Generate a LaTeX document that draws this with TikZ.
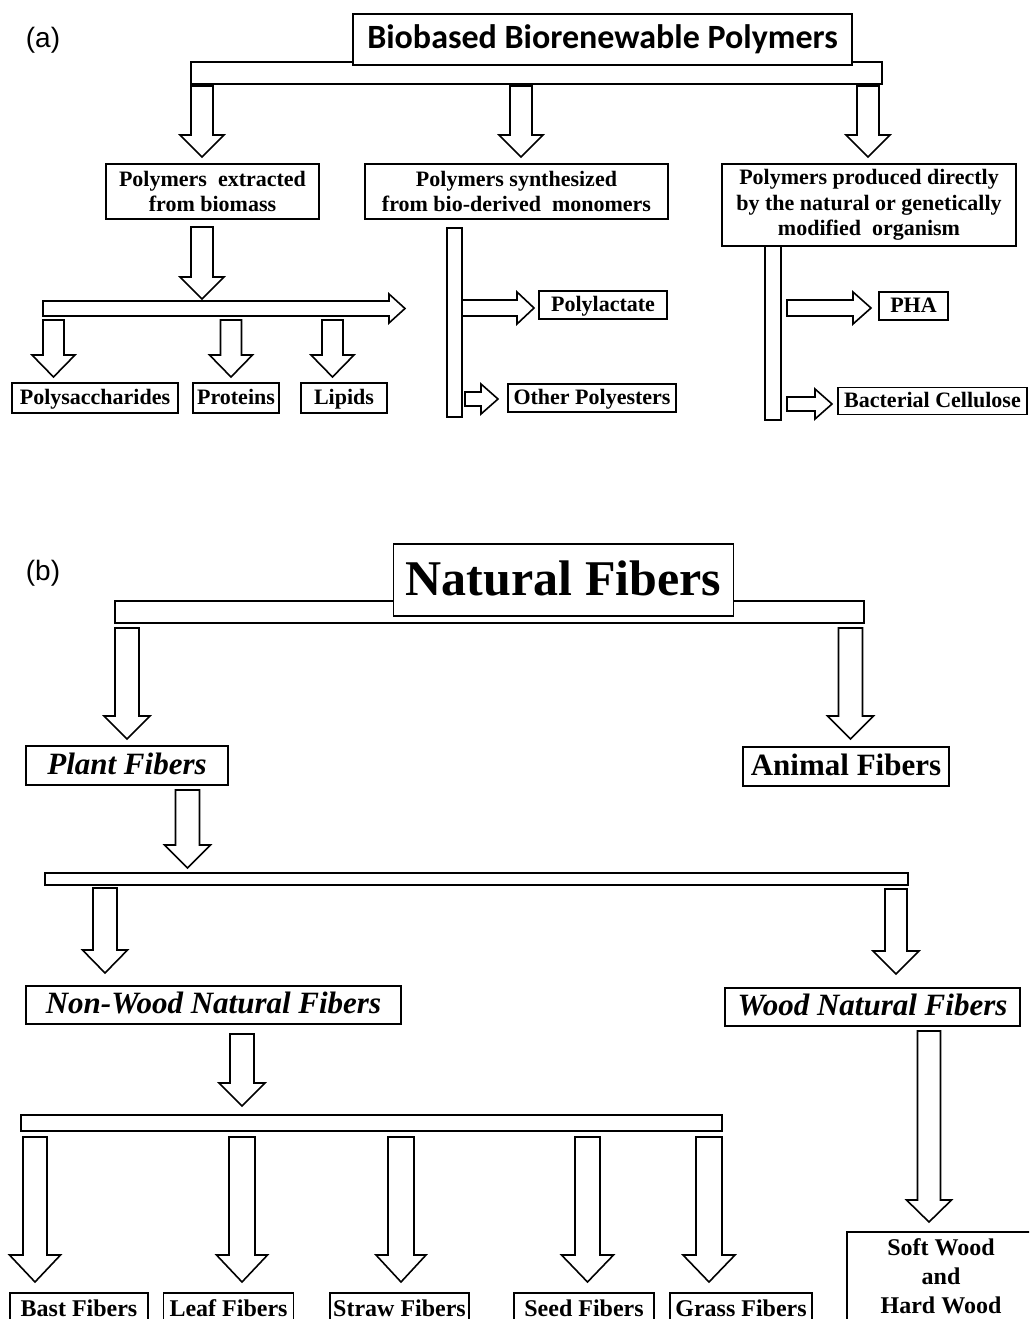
\documentclass[tikz,border=0pt]{standalone}
\usepackage{fontspec}
\setmainfont{Liberation Serif}
\newfontfamily\calibf{Carlito}
\newfontfamily\arialf{Liberation Sans}
\newcommand\darr[6]{\draw[blk] ({#1-#5},#2) -- ({#1-#5},#3) -- ({#1-#6},#3) -- (#1,#4) -- ({#1+#6},#3) -- ({#1+#5},#3) -- ({#1+#5},#2) -- cycle;}
\newcommand\rarr[6]{\draw[blk] (#2,{#1-#5}) -- (#3,{#1-#5}) -- (#3,{#1-#6}) -- (#4,#1) -- (#3,{#1+#6}) -- (#3,{#1+#5}) -- (#2,{#1+#5}) -- cycle;}
\tikzset{
  blk/.style={draw, fill=white, line width=1.6pt, line join=miter},
  box/.style={draw, fill=white, line width=1.6pt, inner sep=0pt, align=center},
  ta/.style={font={\bfseries\fontsize{22}{25.5}\selectfont}},
  sla/.style={ta, text height=15pt, text depth=3pt},
  tb/.style={font={\bfseries\fontsize{31}{36}\selectfont}, text height=21pt, text depth=4pt},
  tbi/.style={font={\bfseries\itshape\fontsize{31}{36}\selectfont}, text height=21pt, text depth=4pt},
  tl/.style={font={\bfseries\fontsize{24}{29}\selectfont}},
  tlb/.style={tl, text height=16pt, text depth=0pt},
  lab/.style={font={\arialf\fontsize{28}{32}\selectfont}, inner sep=0pt}
}
\begin{document}
\begin{tikzpicture}[x=1pt, y=-1pt]
\useasboundingbox (0,0) rectangle (1029,1319);
\clip (0,0) rectangle (1029,1319);
\fill[white] (0,0) rectangle (1029,1319);
% ---------------- (a) ----------------
\node[lab] (la) at (43,40) {(a)};
\draw[blk] (191,62) rectangle (882,84);
\node[box, minimum width=499pt, minimum height=51pt, font={\calibf\bfseries\fontsize{34}{40}\selectfont}] (title) at (602.5,39.5) {Biobased Biorenewable Polymers};
\darr{202}{86}{135}{157}{11}{22}
\darr{521}{86}{135}{157}{11}{22}
\darr{868}{86}{135}{157}{11}{22}
\node[box, ta, minimum width=213pt, minimum height=55pt] (b1) at (212.5,191.5) {Polymers\ \ extracted\\from biomass};
\node[box, ta, minimum width=303pt, minimum height=55pt] (b2) at (516.5,191.5) {Polymers synthesized\\from bio-derived\ \ monomers};
\node[box, ta, minimum width=294pt, minimum height=82pt] (b3) at (869,205) {Polymers produced directly\\by the natural or genetically\\modified\ \ organism};
\darr{202}{227}{277}{299}{11}{22}
\rarr{308.5}{43}{389}{405}{7.5}{14.5}
\darr{53.5}{320}{355}{377}{10.5}{21.5}
\darr{231}{320}{355}{377}{10.5}{21.5}
\darr{332.5}{320}{355}{377}{10.5}{21.5}
\node[box, sla, minimum width=166pt, minimum height=30pt] (ps) at (95,398) {Polysaccharides};
\node[box, sla, minimum width=86pt, minimum height=30pt] (pr) at (236,398) {Proteins};
\node[box, sla, minimum width=86pt, minimum height=30pt] (li) at (344,398) {Lipids};
% synthesized bar
\draw[blk] (447,228) rectangle (462,417);
\rarr{308}{462}{517}{534}{8}{16}
\node[box, sla, minimum width=128pt, minimum height=28pt] (pl) at (603,305) {Polylactate};
\rarr{399}{465}{481}{498}{7}{15}
\node[box, sla, minimum width=168pt, minimum height=28pt] (op) at (592,398) {Other Polyesters};
% organism bar
\draw[blk] (765,246) rectangle (781,420);
\rarr{308}{787}{853}{871}{8}{16}
\node[box, sla, minimum width=69pt, minimum height=28pt] (pha) at (913.5,306) {PHA};
\rarr{404}{787}{815}{832}{7}{15}
\node[box, sla, minimum width=189pt, minimum height=27pt] (bc) at (932.5,401) {Bacterial Cellulose};
% ---------------- (b) ----------------
\node[lab] (lb) at (43,573) {(b)};
\draw[blk] (115,601) rectangle (864,623);
\node[box, font={\bfseries\fontsize{50}{56}\selectfont}, text height=34pt, text depth=4pt, minimum width=340pt, minimum height=72pt] (nf) at (563.5,580) {Natural Fibers};
\darr{127}{628}{716}{739}{12}{23}
\darr{850.5}{628}{716}{739}{12}{23}
\node[box, tbi, minimum width=202pt, minimum height=39pt] (plant) at (127,765.5) {Plant Fibers};
\node[box, tb, minimum width=206pt, minimum height=39pt] (animal) at (846,766.5) {Animal Fibers};
\darr{187.5}{790}{845}{868}{12}{23}
\draw[blk] (45,873) rectangle (908,885);
\darr{105}{888}{950}{973}{12}{22.5}
\darr{896}{889}{951}{974}{11}{23}
\node[box, tbi, minimum width=375pt, minimum height=38pt] (nw) at (213.5,1005) {Non-Wood Natural Fibers};
\node[box, tbi, minimum width=295pt, minimum height=38pt] (wd) at (872.5,1007) {Wood Natural Fibers};
\darr{242}{1034}{1083}{1106}{12}{23}
\draw[blk] (21,1115) rectangle (722,1131);
\darr{35}{1137}{1255}{1282}{12}{25.5}
\darr{242}{1137}{1255}{1282}{13}{25.5}
\darr{401}{1137}{1255}{1282}{13}{25}
\darr{587.5}{1137}{1255}{1282}{12.5}{26}
\darr{709}{1137}{1255}{1282}{13}{26}
\darr{929}{1031}{1200}{1222}{11.5}{22.5}
\node[box, tlb, minimum width=138pt, minimum height=30pt] (bast) at (79,1308) {Bast Fibers};
\node[box, tlb, minimum width=130pt, minimum height=30pt] (leaf) at (228.5,1308) {Leaf Fibers};
\node[box, tlb, minimum width=139pt, minimum height=30pt] (straw) at (399.5,1308) {Straw Fibers};
\node[box, tlb, minimum width=140pt, minimum height=30pt] (seed) at (584,1308) {Seed Fibers};
\node[box, tlb, minimum width=142pt, minimum height=30pt] (grass) at (741,1308) {Grass Fibers};
\node[box, tl, minimum width=188pt, minimum height=88pt] (sw) at (941,1276) {Soft Wood\\and\\Hard Wood};
\end{tikzpicture}
\end{document}
